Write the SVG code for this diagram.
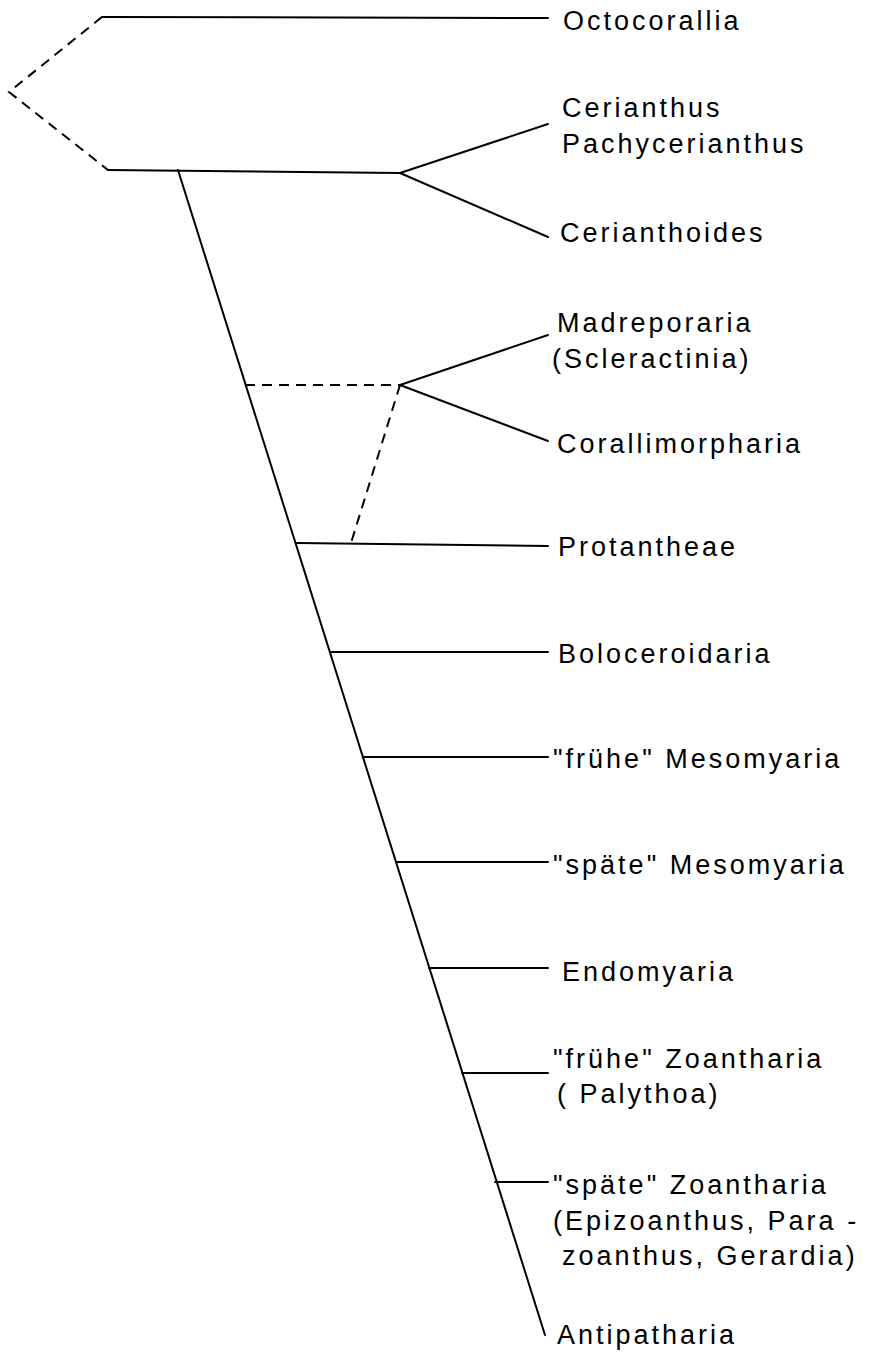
<svg xmlns="http://www.w3.org/2000/svg" width="870" height="1352" viewBox="0 0 870 1352">
<style>
.l{stroke:#000;stroke-width:2;fill:none;stroke-linecap:round}
.d{stroke:#000;stroke-width:2;fill:none;stroke-dasharray:10 7}
text{font-family:"Liberation Sans",Arial,sans-serif;font-size:27px;letter-spacing:3px;fill:#000}
</style>
<rect width="870" height="1352" fill="#fff"/>
<g id="connectors">
<path class="d" d="M102,17 L9,92 L108,170"/>
<path class="l" d="M102,17 L548,18"/>
<path class="l" d="M108,170 L400,173"/>
<path class="l" d="M400,173 L548,124 M400,173 L548,237"/>
<path class="l" d="M178,170 L545,1335"/>
<path class="d" d="M245,385 L400,385"/>
<path class="d" d="M400,385 L351,543"/>
<path class="l" d="M400,385 L548,335 M400,385 L548,441"/>
<path class="l" d="M297,543 L548,546"/>
<path class="l" d="M330,652 L548,652"/>
<path class="l" d="M363,757 L548,757"/>
<path class="l" d="M396,862 L548,862"/>
<path class="l" d="M429,968 L548,968"/>
<path class="l" d="M462,1073 L548,1073"/>
<path class="l" d="M495,1182 L548,1182"/>
</g>
<g id="octocorallia"><text x="563" y="30">Octocorallia</text></g>
<g id="cerianthus"><text x="562" y="117">Cerianthus</text><text x="562" y="153">Pachycerianthus</text></g>
<g id="cerianthoides"><text x="560" y="242">Cerianthoides</text></g>
<g id="madreporaria"><text x="557" y="332">Madreporaria</text><text x="552" y="368">(Scleractinia)</text></g>
<g id="corallimorpharia"><text x="557" y="453">Corallimorpharia</text></g>
<g id="protantheae"><text x="558" y="556">Protantheae</text></g>
<g id="boloceroidaria"><text x="558" y="663">Boloceroidaria</text></g>
<g id="fruehe-mesomyaria"><text x="553" y="768">"frühe" Mesomyaria</text></g>
<g id="spaete-mesomyaria"><text x="553" y="874">"späte" Mesomyaria</text></g>
<g id="endomyaria"><text x="562" y="981">Endomyaria</text></g>
<g id="fruehe-zoantharia"><text x="553" y="1068">"frühe" Zoantharia</text><text x="557" y="1103">( Palythoa)</text></g>
<g id="spaete-zoantharia"><text x="553" y="1194">"späte" Zoantharia</text><text x="553" y="1230">(Epizoanthus, Para -</text><text x="562" y="1265">zoanthus, Gerardia)</text></g>
<g id="antipatharia"><text x="557" y="1344">Antipatharia</text></g>
</svg>
